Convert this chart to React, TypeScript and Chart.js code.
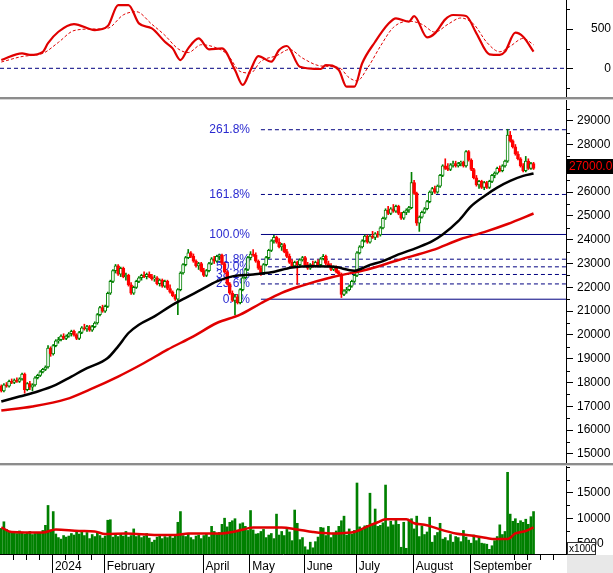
import React, { useEffect, useRef } from 'react';
import { Chart, registerables } from 'chart.js';

Chart.register(...registerables);

const FONT = "'Liberation Sans', Arial, sans-serif";
Chart.defaults.font.family = FONT;

const X_MIN = -0.5;
const X_MAX = 217.5;

const UP = '#008000';
const DOWN = '#ff0000';
const LINE_RED = '#e00000';
const NAVY = '#000080';
const FIB_TEXT = '#2a2ad0';

// ---- daily candles (index 0 = mid-Dec 2023) ----
const opens = [
  17850,17650,17900,17850,18050,18000,18100,18050,18150,18350,
  17700,17950,17800,17900,18200,18300,18450,18550,18650,19450,
  19200,19550,19750,19800,19950,19850,19950,20050,20150,20000,
  19850,20100,20300,20250,20350,20200,20350,20500,20850,21150,
  21000,21200,21750,22250,22700,22900,22550,22800,22450,22500,
  22100,21750,22000,22250,22400,22500,22450,22550,22450,22350,
  22400,22150,22300,22050,22250,21950,21800,21650,21500,21900,
  22600,22950,23250,23450,23300,23100,22900,23000,22700,22500,
  22700,23000,23200,23100,23300,23350,23000,22650,22150,21750,
  21450,21600,21350,21900,22400,22750,23250,23400,23350,23100,
  22800,22600,22950,23250,23550,23950,24100,23900,23700,23800,
  23500,23300,23050,22900,23050,22950,23150,23250,22950,22800,
  22950,22900,23050,22950,23200,23300,23000,22900,22750,22850,
  22650,22550,21700,21850,21900,22050,22250,22500,23450,23700,
  23950,24150,23900,24150,24100,24250,24200,24500,24900,25250,
  25100,25300,25200,25400,25100,24900,25150,25250,25350,26400,
  25950,24700,24950,25150,25300,25600,26000,26150,26000,26250,
  26700,27100,27000,26950,27150,27200,27100,27200,27250,27100,
  27700,27350,26950,26600,26300,26450,26200,26400,26200,26450,
  26700,26800,27000,26900,27100,27300,28400,28150,27900,27600,
  27400,27100,26900,27300,27000,27200,
];
const highs = [
  17900,17950,18000,18100,18150,18150,18200,18200,18400,18400,
  18000,18050,17950,18250,18350,18500,18600,18700,19550,19500,
  19600,19800,19900,20000,20050,20000,20100,20200,20200,20050,
  20150,20350,20450,20400,20400,20400,20550,20900,21200,21250,
  21250,21800,22300,22750,22960,22950,22850,22850,22600,22550,
  22200,22050,22300,22450,22550,22650,22600,22650,22550,22500,
  22450,22350,22350,22300,22300,22100,21850,21700,21950,22650,
  23000,23300,23590,23500,23400,23150,23050,23050,22800,22750,
  23050,23250,23300,23350,23400,23400,23050,22700,22200,21850,
  21700,21700,21950,22450,22800,23300,23500,23590,23450,23150,
  22900,23000,23300,23600,24000,24180,24150,24050,23850,23850,
  23600,23400,23150,23100,23100,23200,23300,23300,23050,23000,
  23100,23100,23150,23250,23380,23350,23100,23000,22900,22900,
  22700,22600,21900,22000,22100,22300,22550,23500,23750,24000,
  24200,24200,24200,24350,24300,24350,24550,24950,25300,25400,
  25350,25480,25450,25450,25150,25200,25300,25400,26830,26500,
  26000,25000,25200,25350,25650,26050,26200,26250,26300,26750,
  27150,27400,27200,27200,27300,27300,27250,27300,27300,27750,
  27750,27400,27000,26700,26500,26500,26450,26450,26500,26750,
  26850,27050,27100,27150,27350,28640,28550,28200,28000,27700,
  27450,27200,27500,27400,27250,27250,
];
const lows = [
  17600,17600,17800,17800,17950,17950,18000,18000,18100,17550,
  17650,17700,17650,17850,18150,18250,18400,18500,18600,19100,
  19150,19500,19650,19750,19800,19800,19900,19950,19950,19800,
  19800,20050,20200,20150,20150,20150,20300,20450,20800,20950,
  20950,21150,21700,22200,22600,22500,22450,22400,22300,22050,
  21700,21700,21950,22200,22300,22400,22350,22400,22300,22250,
  22100,22050,22000,22000,21900,21750,21600,21450,20850,21850,
  22550,22900,23200,23250,23050,22850,22750,22650,22450,22450,
  22650,22950,23000,23050,23150,22950,22600,22100,21700,21400,
  20850,21300,21300,21850,22350,22700,23150,23300,23050,22750,
  22500,22550,22900,23200,23500,23850,23850,23650,23550,23450,
  23250,23000,22850,22850,22120,22900,23100,22900,22750,22750,
  22850,22850,22900,22900,23150,22950,22850,22700,22700,22600,
  22500,21570,21650,21750,21850,22000,22200,22450,23400,23650,
  23900,23850,23850,24050,24000,24100,24150,24450,24850,25050,
  25050,25150,25150,25050,24850,24850,25050,25150,25300,25900,
  24600,24350,24900,25100,25250,25550,25900,25950,25950,26200,
  26650,26950,26900,26900,27050,27050,27050,27100,27050,27050,
  27300,26900,26550,26250,26150,26150,26100,26150,26150,26400,
  26600,26750,26850,26850,27050,27250,28100,27850,27550,27350,
  27050,26850,26850,26950,26950,26950,
];
const closes = [
  17650,17900,17850,18050,18000,18100,18050,18150,18350,17700,
  17950,17800,17900,18200,18300,18450,18550,18650,19450,19200,
  19550,19750,19800,19950,19850,19950,20050,20150,20000,19850,
  20100,20300,20250,20350,20200,20350,20500,20850,21150,21000,
  21200,21750,22250,22700,22900,22550,22800,22450,22500,22100,
  21750,22000,22250,22400,22500,22450,22550,22450,22350,22400,
  22150,22300,22050,22250,21950,21800,21650,21500,21900,22600,
  22950,23250,23450,23300,23100,22900,23000,22700,22500,22700,
  23000,23200,23100,23300,23350,23000,22650,22150,21750,21450,
  21600,21350,21900,22400,22750,23250,23400,23350,23100,22800,
  22600,22950,23250,23550,23950,24100,23900,23700,23800,23500,
  23300,23050,22900,23050,22950,23150,23250,22950,22800,22950,
  22900,23050,22950,23200,23300,23000,22900,22750,22850,22650,
  22550,21700,21850,21900,22050,22250,22500,23450,23700,23950,
  24150,23900,24150,24100,24250,24200,24500,24900,25250,25100,
  25300,25200,25400,25100,24900,25150,25250,25350,26400,25950,
  24700,24950,25150,25300,25600,26000,26150,26000,26250,26700,
  27100,27000,26950,27150,27200,27100,27200,27250,27100,27700,
  27350,26950,26600,26300,26450,26200,26400,26200,26450,26700,
  26800,27000,26900,27100,27300,28400,28150,27900,27600,27400,
  27100,26900,27300,27000,27200,27000,
];
const volumes = [
  8000,9300,7800,7400,7100,7300,7000,7500,7200,6900,
  7100,7400,6800,7000,7200,7100,7600,8600,12500,7700,
  11300,6900,6200,5900,6600,6300,6500,7000,6700,7300,
  6900,7400,6600,7200,6000,6800,6400,7100,6600,6100,
  6500,9600,9700,6300,6700,6400,7000,6500,7400,6300,
  6600,7900,6400,6800,6200,6500,7000,6100,5300,5700,
  6300,6600,6000,6400,6200,6800,6100,6600,9200,11300,
  6600,6400,6900,6200,5800,6500,6700,6000,6600,6900,
  6300,8400,7400,6800,7200,8800,10000,8300,9200,9500,
  9900,7400,8900,9100,8400,7600,11500,7700,6900,7000,
  7400,7800,6200,6700,7000,6000,10800,6700,7400,6600,
  7800,7300,5600,11600,9000,5800,6200,4400,3800,5300,
  4200,5400,6300,8200,8100,6600,8400,6200,7100,7500,
  8400,9500,10400,6700,7900,6900,7600,16900,8300,7800,
  8500,8600,14900,8900,11800,8400,8600,9100,16500,8300,
  9400,8700,9700,8800,4300,9200,4100,9500,9900,7900,
  10400,6400,8500,6800,7300,10200,5300,6600,7200,9000,
  5900,6200,5600,6800,5300,6400,6200,5400,7600,6300,
  5700,5100,6700,5600,6200,5100,5000,4900,3900,4600,
  5600,6400,8700,6800,7400,19000,10800,9400,9900,9000,
  9500,9200,9800,8800,10300,11300,
];

// ---- moving averages (bar index, value) ----
const maBlackIdx = [0,7,14,21,27,33,41,45,49,53,59,65,71,77,83,89,97,104,112,120,128,136,142,147,153,160,166,170,176,181,186,191,196,201,205];
const maBlackVal = [17200,17410,17620,17900,18250,18600,19030,19520,20080,20430,20780,21200,21560,21900,22250,22460,22540,22630,22830,22880,22860,22700,22940,23100,23380,23660,23940,24220,24780,25410,25830,26190,26470,26680,26780];
const maRedIdx = [0,12,25,34,45,55,64,74,83,92,100,108,115,128,141,153,166,177,186,195,205];
const maRedVal = [16820,16990,17300,17700,18250,18820,19380,19940,20500,20850,21330,21770,22040,22440,22750,23150,23560,24030,24320,24660,25100];
const volMaIdx = [0,4,16,21,30,36,40,48,60,67,72,84,90,94,97,108,114,120,127,132,136,142,145,148,156,159,163,166,169,175,181,187,190,195,198,202,205];
const volMaVal = [8200,7300,7200,7800,7500,7400,6900,7000,6700,6700,7000,7000,7400,7900,8200,8200,7800,7300,7000,7100,7300,8600,9200,9800,9800,9000,8700,8300,7800,7000,6600,6100,5900,5900,7000,7500,8200];

// ---- oscillator (top panel) ----
const macdIdx = [0,8,11,16,18,22,28,36,41,45,49,53,58,63,66,69,72,76,80,85,90,93,96,99,104,107,110,115,123,125,130,133,136,139,144,149,152,157,159,164,167,171,174,179,183,188,192,194,198,201,205];
const macdVal = [105,190,170,210,320,465,563,487,538,805,805,572,508,338,254,105,254,381,242,254,-22,-212,-22,156,84,233,284,20,-9,42,-22,-234,-234,64,338,563,636,593,665,394,445,623,678,665,445,178,170,212,453,402,212];
const signalIdx = [0,8,16,22,28,35,41,47,52,58,63,68,72,77,82,87,92,96,100,106,111,116,123,130,134,137,141,146,151,157,162,167,172,177,182,187,192,196,201,205];
const signalVal = [80,150,190,330,480,500,510,680,720,560,420,250,200,300,270,180,-40,-60,90,160,240,130,30,10,-120,-160,0,280,520,600,560,460,560,640,560,330,210,280,380,300];

// ---- Fibonacci ----
const fibLow = 21500;
const fibHigh = 24220;
const fibPercents = [0, 23.6, 38.2, 50, 61.8, 100, 161.8, 261.8];
const fibSolid = [0, 100];
const fibStart = 100;
const fibLabelAt = 95.8;

// ---- ticks ----
const priceTicks = [15000,16000,17000,18000,19000,20000,21000,22000,23000,24000,25000,26000,27000,28000,29000];
const priceMinor = [15500,16500,17500,18500,19500,20500,21500,22500,23500,24500,25500,26500,27500,28500,29500];
const volTicks = [5000, 10000, 15000];
const volMinor = [7500, 12500, 17500, 20000];
const macdTicks = [0, 500];
const macdMinor = [-250, 250, 750];
const monthPos = [19.5, 39.5, 77.5, 95.5, 116.5, 136.5, 158.5, 180.5];
const monthLabels = ['2024', 'February', 'April', 'May', 'June', 'July', 'August', 'September'];
const weekPos = [4.5, 9.5, 14.5, 24.5, 29.5, 34.5, 197.5, 202.5, 207.5, 212.5];

const fibValue = (p: number) => fibLow + (p / 100) * (fibHigh - fibLow);
const pts = (idx: number[], val: number[]) => idx.map((x, i) => ({ x, y: val[i] }));
const isUp = (i: number) => closes[i] >= opens[i];

function rightAxis(min: number, max: number, majors: number[], width: number, padding: number, crossAlign: string) {
  return {
    type: 'linear',
    position: 'right',
    min,
    max,
    afterBuildTicks: (s: any) => { s.ticks = majors.map((v) => ({ value: v })); },
    afterFit: (s: any) => { s.width = width; s.paddingTop = 0; s.paddingBottom = 0; },
    grid: { drawOnChartArea: false, drawTicks: true, tickLength: 7, color: '#000', tickColor: '#000' },
    border: { display: true, color: '#000', width: 1 },
    ticks: {
      color: '#000',
      font: { family: FONT, size: 12 },
      padding,
      crossAlign,
      autoSkip: false,
      callback: (v: any) => String(v),
    },
  };
}

function hiddenX() {
  return { type: 'linear', min: X_MIN, max: X_MAX, display: false, offset: false };
}

function minorTicks(values: number[], len: number) {
  return {
    id: 'minorTicks',
    afterDraw(chart: any) {
      const s = chart.scales.y;
      const ctx = chart.ctx;
      ctx.save();
      ctx.strokeStyle = '#000';
      ctx.lineWidth = 1;
      ctx.beginPath();
      values.forEach((v) => {
        if (v < s.min || v > s.max) return;
        const y = Math.round(s.getPixelForValue(v)) + 0.5;
        ctx.moveTo(s.left, y);
        ctx.lineTo(s.left + len, y);
      });
      ctx.stroke();
      ctx.restore();
    },
  };
}

const baseOptions = {
  responsive: false,
  animation: false,
  events: [],
  layout: { padding: 0 },
  plugins: { legend: { display: false }, tooltip: { enabled: false } },
};

export default function App() {
  const topRef = useRef<HTMLCanvasElement>(null);
  const priceRef = useRef<HTMLCanvasElement>(null);
  const volRef = useRef<HTMLCanvasElement>(null);

  useEffect(() => {
    const charts: Chart[] = [];

    // ---------- top oscillator ----------
    charts.push(new Chart(topRef.current as HTMLCanvasElement, {
      type: 'line',
      data: {
        datasets: [
          { data: pts(macdIdx, macdVal), borderColor: LINE_RED, borderWidth: 2.2, pointRadius: 0, cubicInterpolationMode: 'monotone', order: 1 },
          { data: pts(signalIdx, signalVal), borderColor: LINE_RED, borderWidth: 1, borderDash: [3, 2], pointRadius: 0, cubicInterpolationMode: 'monotone', order: 2 },
          { data: [{ x: X_MIN, y: 0 }, { x: X_MAX, y: 0 }], borderColor: NAVY, borderWidth: 1, borderDash: [4, 3], pointRadius: 0, order: 3 },
        ],
      } as any,
      options: {
        ...baseOptions,
        scales: {
          x: hiddenX(),
          y: rightAxis(-365, 869, macdTicks, 45, 18, 'far'),
        },
      } as any,
      plugins: [minorTicks(macdMinor, 4)],
    }));

    // ---------- price ----------
    const fibSets = fibPercents.map((p) => ({
      type: 'line',
      data: [{ x: fibStart, y: fibValue(p) }, { x: X_MAX, y: fibValue(p) }],
      borderColor: NAVY,
      borderWidth: 1,
      borderDash: fibSolid.includes(p) ? [] : [4, 3],
      pointRadius: 0,
      order: 10,
    }));

    const fibLabels = {
      id: 'fibLabels',
      beforeDatasetsDraw(chart: any) {
        const { ctx, scales } = chart;
        ctx.save();
        ctx.font = `12px ${FONT}`;
        ctx.fillStyle = FIB_TEXT;
        ctx.textAlign = 'right';
        ctx.textBaseline = 'middle';
        const lx = scales.x.getPixelForValue(fibLabelAt);
        fibPercents.forEach((p) => {
          ctx.fillText(p.toFixed(1) + '%', lx, scales.y.getPixelForValue(fibValue(p)));
        });
        ctx.restore();
      },
    };

    const lastPrice = {
      id: 'lastPrice',
      afterDraw(chart: any) {
        const { ctx, scales, chartArea } = chart;
        const last = closes[closes.length - 1];
        const y = scales.y.getPixelForValue(last) - 2;
        ctx.save();
        ctx.fillStyle = '#000';
        ctx.fillRect(chartArea.right + 1, Math.round(y - 7.5), chart.width - chartArea.right - 1, 15);
        ctx.fillStyle = '#ff0000';
        ctx.font = `12px ${FONT}`;
        ctx.textAlign = 'left';
        ctx.textBaseline = 'middle';
        ctx.fillText(last.toFixed(2), chartArea.right + 3, y);
        ctx.restore();
      },
    };

    charts.push(new Chart(priceRef.current as HTMLCanvasElement, {
      type: 'bar',
      data: {
        datasets: [
          ...fibSets,
          {
            type: 'bar',
            data: opens.map((_, i) => ({ x: i, y: [lows[i], highs[i]] })),
            backgroundColor: (c: any) => (isUp(c.dataIndex ?? 0) ? UP : DOWN),
            borderWidth: 0,
            barThickness: 1,
            grouped: false,
            order: 6,
          },
          {
            type: 'bar',
            data: opens.map((o, i) => ({ x: i, y: [o, closes[i]] })),
            backgroundColor: (c: any) => (isUp(c.dataIndex ?? 0) ? '#ffffff' : DOWN),
            borderColor: (c: any) => (isUp(c.dataIndex ?? 0) ? UP : DOWN),
            borderWidth: 1,
            borderSkipped: false,
            barThickness: 3,
            grouped: false,
            order: 5,
          },
          { type: 'line', data: pts(maRedIdx, maRedVal), borderColor: LINE_RED, borderWidth: 2.5, pointRadius: 0, cubicInterpolationMode: 'monotone', order: 2 },
          { type: 'line', data: pts(maBlackIdx, maBlackVal), borderColor: '#000', borderWidth: 2.5, pointRadius: 0, cubicInterpolationMode: 'monotone', order: 1 },
        ],
      } as any,
      options: {
        ...baseOptions,
        scales: {
          x: hiddenX(),
          y: rightAxis(14618, 29870, priceTicks, 47, 4, 'near'),
        },
      } as any,
      plugins: [minorTicks(priceMinor, 4), fibLabels, lastPrice],
    }));

    // ---------- volume ----------
    const volExtras = {
      id: 'volExtras',
      afterDraw(chart: any) {
        const { ctx, scales, chartArea } = chart;
        const sx = scales.x;
        ctx.save();
        ctx.fillStyle = '#e8e8e8';
        ctx.fillRect(chartArea.right + 1, chartArea.bottom + 1, chart.width - chartArea.right - 1, chart.height - chartArea.bottom - 1);
        ctx.strokeStyle = '#000';
        ctx.lineWidth = 1;
        ctx.beginPath();
        monthPos.forEach((p) => {
          const x = Math.round(sx.getPixelForValue(p)) + 0.5;
          ctx.moveTo(x, chartArea.bottom);
          ctx.lineTo(x, chart.height);
        });
        weekPos.forEach((p) => {
          const x = Math.round(sx.getPixelForValue(p)) + 0.5;
          ctx.moveTo(x, chartArea.bottom);
          ctx.lineTo(x, chartArea.bottom + 6);
        });
        ctx.stroke();
        const bx = chartArea.right + 1;
        const by = chartArea.bottom - 12;
        ctx.fillStyle = '#fff';
        ctx.fillRect(bx, by, 29, 13);
        ctx.strokeStyle = '#333';
        ctx.strokeRect(bx + 0.5, by + 0.5, 28, 12);
        ctx.fillStyle = '#000';
        ctx.font = `10px ${FONT}`;
        ctx.textAlign = 'left';
        ctx.textBaseline = 'middle';
        ctx.fillText('x1000', bx + 2, by + 7);
        ctx.restore();
      },
    };

    charts.push(new Chart(volRef.current as HTMLCanvasElement, {
      type: 'bar',
      data: {
        datasets: [
          {
            type: 'bar',
            data: volumes.map((v, i) => ({ x: i, y: v })),
            backgroundColor: UP,
            borderWidth: 0,
            barThickness: 2,
            grouped: false,
            order: 2,
          },
          { type: 'line', data: pts(volMaIdx, volMaVal), borderColor: LINE_RED, borderWidth: 2.5, pointRadius: 0, cubicInterpolationMode: 'monotone', order: 1 },
        ],
      } as any,
      options: {
        ...baseOptions,
        scales: {
          x: {
            type: 'linear',
            min: X_MIN,
            max: X_MAX,
            offset: false,
            position: 'bottom',
            afterBuildTicks: (s: any) => { s.ticks = monthPos.map((v) => ({ value: v })); },
            afterFit: (s: any) => { s.height = 19; s.paddingLeft = 0; s.paddingRight = 0; },
            grid: { display: false, drawTicks: false, tickLength: 0 },
            border: { display: true, color: '#000', width: 1 },
            ticks: {
              autoSkip: false,
              maxRotation: 0,
              minRotation: 0,
              align: 'start',
              labelOffset: 3,
              padding: 5,
              color: '#000',
              font: { family: FONT, size: 12 },
              callback: (_v: any, i: number) => monthLabels[i],
            },
          },
          y: rightAxis(2980, 20235, volTicks, 47, 4, 'near'),
        },
      } as any,
      plugins: [minorTicks(volMinor, 4), volExtras],
    }));

    return () => charts.forEach((c) => c.destroy());
  }, []);

  const sep = (top: number) => (
    <>
      <div style={{ position: 'absolute', left: 0, top, width: 613, height: 2, background: '#8c8c8c' }} />
      <div style={{ position: 'absolute', left: 0, top: top + 2, width: 613, height: 1, background: '#d4d4d4' }} />
    </>
  );

  return (
    <div style={{ position: 'fixed', left: 0, top: 0, width: 613, height: 573, background: '#fff', overflow: 'hidden' }}>
      <canvas ref={topRef} width={611} height={97} style={{ position: 'absolute', left: 0, top: 0 }} />
      {sep(97)}
      <canvas ref={priceRef} width={613} height={363} style={{ position: 'absolute', left: 0, top: 100 }} />
      {sep(463)}
      <canvas ref={volRef} width={613} height={107} style={{ position: 'absolute', left: 0, top: 466 }} />
    </div>
  );
}
